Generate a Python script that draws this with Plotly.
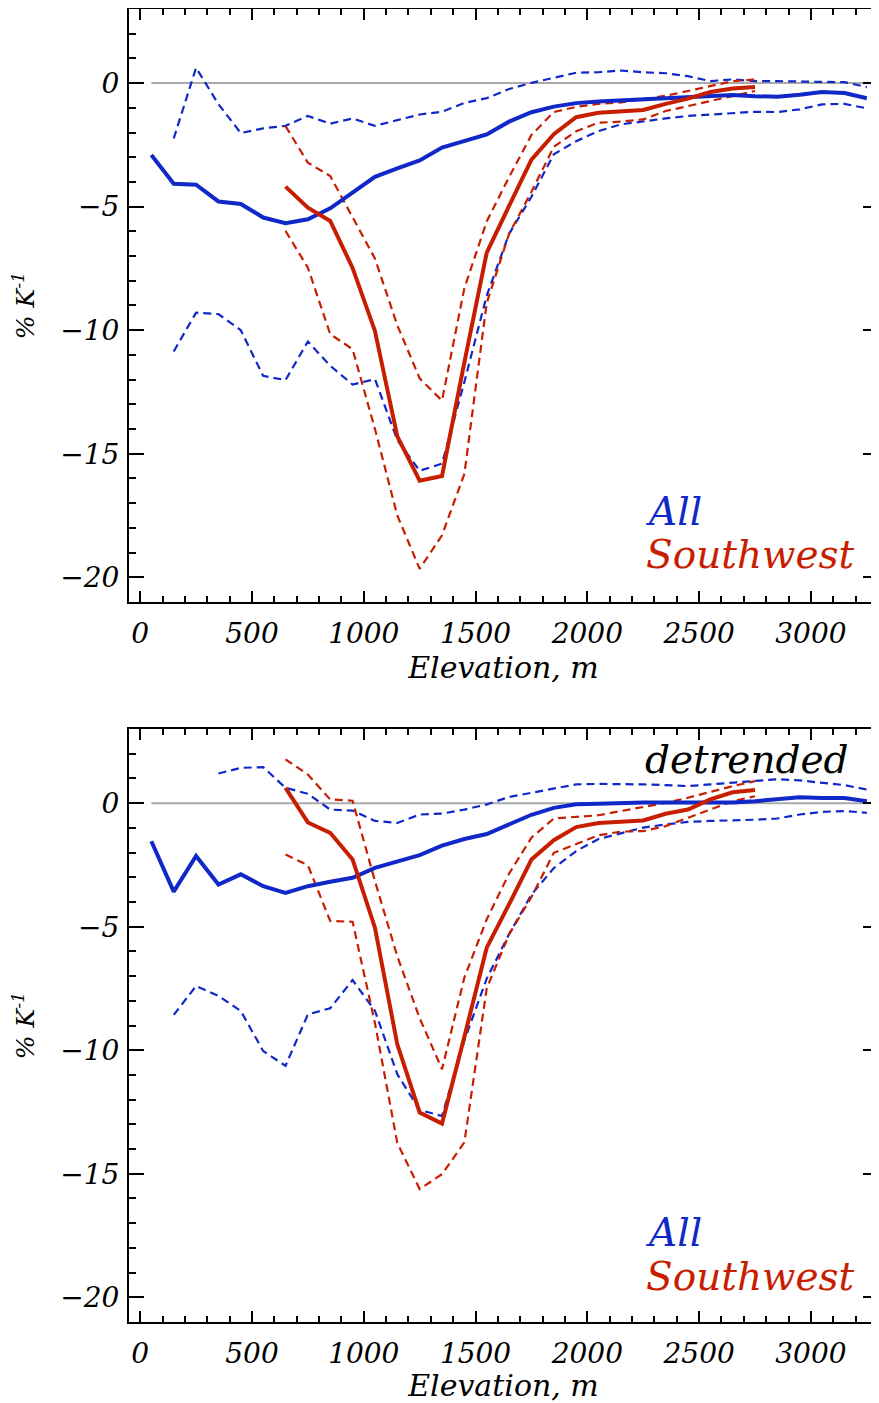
import plotly.graph_objects as go

# ---------------- data ----------------
elev_all = [50, 150, 250, 350, 450, 550, 650, 750, 850, 950, 1050, 1150, 1250, 1350, 1450, 1550,
            1650, 1750, 1850, 1950, 2050, 2150, 2250, 2350, 2450, 2550, 2650, 2750, 2850, 2950,
            3050, 3150, 3250]
elev_band = elev_all[1:]          # 150 .. 3250
elev_band_d = elev_all[3:]        # 350 .. 3250 (detrended upper band)
elev_sw = elev_all[6:28]          # 650 .. 2750
zero_x = [50, 3250]
zero_y = [0, 0]

# top panel (raw)
all_mean = [-2.91, -4.07, -4.11, -4.79, -4.89, -5.44, -5.67, -5.51, -5.07, -4.43, -3.79, -3.45, -3.13,
            -2.61, -2.35, -2.08, -1.56, -1.18, -0.95, -0.81, -0.74, -0.69, -0.66, -0.61, -0.57, -0.50,
            -0.48, -0.53, -0.55, -0.47, -0.36, -0.40, -0.61]
all_upper = [-2.24, 0.62, -0.85, -2.02, -1.83, -1.73, -1.33, -1.64, -1.43, -1.73, -1.50, -1.27, -1.16,
             -0.80, -0.61, -0.24, 0.01, 0.22, 0.42, 0.44, 0.51, 0.44, 0.40, 0.28, 0.08, 0.15, 0.08,
             0.08, 0.08, 0.05, 0.04, -0.16]
all_lower = [-10.86, -9.29, -9.35, -10.0, -11.85, -12.02, -10.46, -11.44, -12.2, -11.98, -14.45,
             -15.69, -15.40, -12.1, -8.6, -6.1, -4.6, -2.88, -2.35, -1.94, -1.67, -1.54, -1.43,
             -1.33, -1.27, -1.20, -1.16, -1.17, -1.06, -0.86, -0.84, -1.02]
sw_mean = [-4.19, -5.04, -5.58, -7.48, -10.03, -14.3, -16.09, -15.9, -11.3, -6.86, -4.97, -3.10,
           -2.07, -1.38, -1.20, -1.16, -1.09, -0.84, -0.63, -0.36, -0.22, -0.16]
sw_upper = [-1.74, -3.22, -3.76, -5.45, -7.1, -9.8, -11.95, -12.85, -8.3, -5.6, -3.8, -2.1, -1.17,
            -0.96, -0.84, -0.78, -0.64, -0.51, -0.32, -0.12, 0.08, 0.15]
sw_lower = [-5.98, -7.47, -10.16, -10.77, -14.0, -17.5, -19.66, -18.3, -15.82, -8.9, -6.1, -4.4,
            -2.58, -1.95, -1.60, -1.56, -1.47, -1.13, -0.93, -0.73, -0.53, -0.32]

# bottom panel (detrended)
all_mean_d = [-1.54, -3.58, -2.14, -3.29, -2.88, -3.36, -3.63, -3.36, -3.18, -3.02, -2.62, -2.35,
              -2.10, -1.72, -1.45, -1.25, -0.84, -0.47, -0.19, -0.04, -0.02, 0.02, 0.03, 0.03, 0.02,
              0.03, 0.03, 0.08, 0.15, 0.24, 0.21, 0.21, 0.08]
all_upper_d = [1.2, 1.43, 1.46, 0.62, 0.38, -0.26, -0.30, -0.72, -0.80, -0.46, -0.42, -0.26, -0.05,
               0.25, 0.42, 0.58, 0.76, 0.78, 0.78, 0.76, 0.73, 0.69, 0.76, 0.82, 0.89, 0.97, 0.92,
               0.82, 0.73, 0.55]
all_lower_d = [-8.57, -7.40, -7.80, -8.41, -10.03, -10.63, -8.55, -8.3, -7.16, -8.4, -10.97, -12.42,
               -12.66, -9.6, -7.1, -5.3, -3.7, -2.63, -1.94, -1.45, -1.22, -0.99, -0.86, -0.76,
               -0.72, -0.70, -0.67, -0.62, -0.46, -0.35, -0.32, -0.39]
sw_mean_d = [0.62, -0.78, -1.2, -2.28, -5.04, -9.76, -12.52, -12.97, -9.45, -5.85, -4.09, -2.28,
             -1.5, -0.97, -0.8, -0.76, -0.70, -0.43, -0.26, 0.15, 0.44, 0.53]
sw_upper_d = [1.77, 1.16, 0.15, 0.1, -3.15, -6.2, -8.7, -10.77, -7.06, -4.7, -2.85, -1.40, -0.62,
              -0.55, -0.49, -0.32, -0.16, 0.01, 0.22, 0.46, 0.69, 0.89]
sw_lower_d = [-2.08, -2.51, -4.77, -4.8, -8.9, -13.75, -15.62, -15.02, -13.73, -7.5, -5.31, -3.8,
              -2.01, -1.67, -1.3, -1.15, -1.13, -0.93, -0.59, -0.26, 0.08, 0.28]

x_ticks = [0, 500, 1000, 1500, 2000, 2500, 3000]
y_ticks = [0, -5, -10, -15, -20]

BLUE = "rgb(16,40,200)"
RED = "rgb(200,30,0)"
GRAY = "rgb(170,170,170)"
FONT = "DejaVu Serif"

fig = go.Figure()


def add_panel(xa, ya, mean_a, up_a, lo_a, mean_s, up_s, lo_s, x_up):
    dash = dict(width=2.2, dash="8px,5px")
    fig.add_trace(go.Scatter(x=zero_x, y=zero_y, mode="lines", line=dict(color=GRAY, width=2),
                             xaxis=xa, yaxis=ya, showlegend=False))
    fig.add_trace(go.Scatter(x=x_up, y=up_a, mode="lines", line=dict(color=BLUE, **dash),
                             xaxis=xa, yaxis=ya, showlegend=False))
    fig.add_trace(go.Scatter(x=elev_band, y=lo_a, mode="lines", line=dict(color=BLUE, **dash),
                             xaxis=xa, yaxis=ya, showlegend=False))
    fig.add_trace(go.Scatter(x=elev_sw, y=up_s, mode="lines", line=dict(color=RED, **dash),
                             xaxis=xa, yaxis=ya, showlegend=False))
    fig.add_trace(go.Scatter(x=elev_sw, y=lo_s, mode="lines", line=dict(color=RED, **dash),
                             xaxis=xa, yaxis=ya, showlegend=False))
    fig.add_trace(go.Scatter(x=elev_all, y=mean_a, mode="lines", line=dict(color=BLUE, width=4),
                             xaxis=xa, yaxis=ya, showlegend=False))
    fig.add_trace(go.Scatter(x=elev_sw, y=mean_s, mode="lines", line=dict(color=RED, width=4),
                             xaxis=xa, yaxis=ya, showlegend=False))


add_panel("x", "y", all_mean, all_upper, all_lower, sw_mean, sw_upper, sw_lower, elev_band)
add_panel("x2", "y2", all_mean_d, all_upper_d, all_lower_d, sw_mean_d, sw_upper_d, sw_lower_d, elev_band_d)

tickfont = dict(family=FONT, size=28, color="black", style="italic")
titlefont = dict(family=FONT, size=30, color="black", style="italic")


def xaxis_def(anchor):
    return dict(range=[-50, 3300], anchor=anchor, showgrid=False, zeroline=False, automargin=False,
                tickvals=x_ticks, ticktext=[str(v) for v in x_ticks],
                ticks="inside", ticklen=11, tickwidth=2, tickcolor="black",
                minor=dict(dtick=100, tick0=0, ticks="inside", ticklen=6, tickwidth=1.5, tickcolor="black"),
                showline=True, linecolor="black", linewidth=2, mirror="allticks",
                tickfont=tickfont, ticklabelstandoff=5,
                title=dict(text="Elevation, m", font=titlefont, standoff=0))


def yaxis_def(anchor, domain):
    return dict(range=[-21, 3], anchor=anchor, domain=domain, showgrid=False, zeroline=False,
                automargin=False,
                tickvals=y_ticks, ticktext=["0", "\u22125", "\u221210", "\u221215", "\u221220"],
                ticks="inside", ticklen=15, tickwidth=2, tickcolor="black",
                minor=dict(dtick=1, tick0=0, ticks="inside", ticklen=7, tickwidth=1.5, tickcolor="black"),
                showline=True, linecolor="black", linewidth=2, mirror="allticks",
                tickfont=tickfont, ticklabelstandoff=2,
                title=dict(text="% K<sup>-1</sup>",
                           font=dict(family=FONT, size=25, color="black", style="italic"),
                           standoff=24))


# the page body adds an 8 px margin, so the figure is sized to fit inside the window
fig.update_layout(
    width=871, height=1395,
    margin=dict(l=121, r=1, t=1, b=81),
    paper_bgcolor="white", plot_bgcolor="white",
    xaxis=xaxis_def("y"),
    yaxis=yaxis_def("x", [0.5484, 1.0]),
    xaxis2=xaxis_def("y2"),
    yaxis2=yaxis_def("x2", [0.0, 0.4516]),
    showlegend=False,
)

annots = [
    ("x", "y", 2255, -17.35, "All", BLUE),
    ("x", "y", 2255, -19.09, "Southwest", RED),
    ("x2", "y2", 2255, -17.39, "All", BLUE),
    ("x2", "y2", 2255, -19.17, "Southwest", RED),
    ("x2", "y2", 2250, 1.78, "detrended", "black"),
]
for xr, yr, xv, yv, txt, col in annots:
    fig.add_annotation(x=xv, y=yv, xref=xr, yref=yr, text=txt, showarrow=False,
                       xanchor="left", yanchor="middle",
                       font=dict(family=FONT, size=39, style="italic", color=col))

fig.write_html("out.html")
